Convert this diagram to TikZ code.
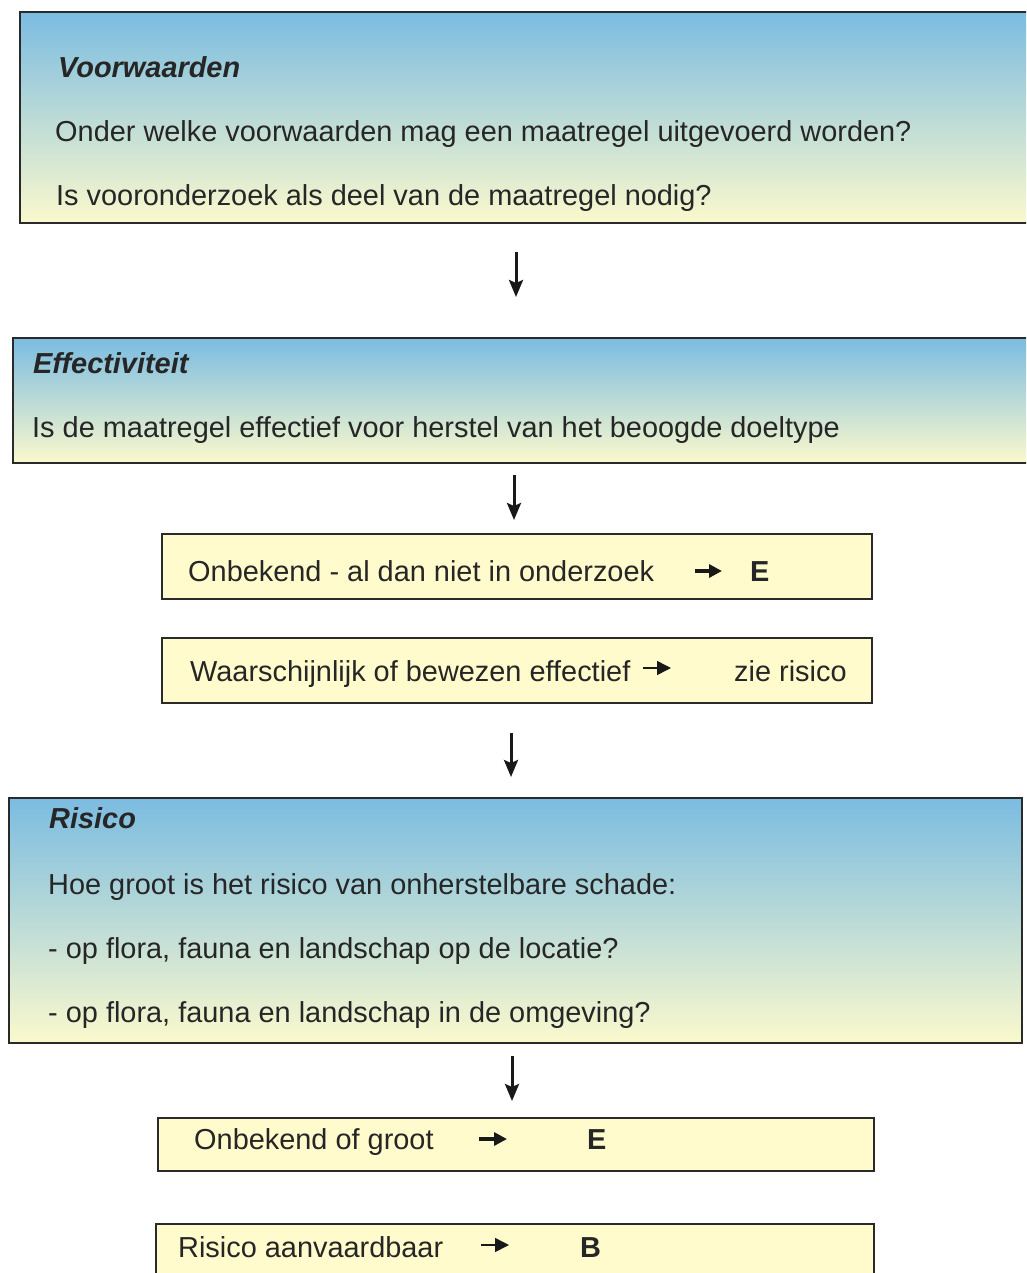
\documentclass[tikz,border=0pt]{standalone}
\usepackage{fontspec}
\setmainfont{Liberation Sans}
\usetikzlibrary{arrows.meta}
\definecolor{txt}{HTML}{262626}
\definecolor{edge}{HTML}{2A2A2A}
\definecolor{topblue}{HTML}{7BBCE1}
\definecolor{botyellow}{HTML}{FBF9CD}
\definecolor{paleyellow}{HTML}{FFFBCC}
\tikzset{
  bigbox/.style={draw=edge, line width=2pt, top color=topblue, bottom color=botyellow, anchor=north west, inner sep=0pt},
  smallbox/.style={draw=edge, line width=2pt, fill=paleyellow, anchor=north west, inner sep=0pt},
  txtnode/.style={anchor=base west, inner sep=0pt, text=txt, font=\fontsize{28.9}{34}\selectfont},
  head/.style={txtnode, font=\fontsize{28.9}{34}\selectfont\bfseries\itshape},
  bold/.style={txtnode, font=\fontsize{28.9}{34}\selectfont\bfseries},
  flow/.style={draw=black!90, line width=3pt, -{Stealth[length=17pt,width=14pt,inset=3pt]}},
  inarrow/.style={draw=black!90, line width=3.2pt, -{Triangle[length=13pt,width=13pt]}},
  inarrowthin/.style={draw=black!90, line width=1.5pt, -{Triangle[length=14pt,width=14pt]}}
}
\begin{document}
\begin{tikzpicture}[x=1pt,y=-1pt]
\useasboundingbox (0,0) rectangle (1026,1273);
\clip (0,0) rectangle (1026,1273);
% boxes
\node[bigbox, minimum width=1021pt, minimum height=211pt] (b1) at (19,11) {};
\node[bigbox, minimum width=1028pt, minimum height=125pt] (b2) at (12,337) {};
\node[smallbox, minimum width=710pt, minimum height=65pt] (b3) at (161,533) {};
\node[smallbox, minimum width=710pt, minimum height=65pt] (b4) at (161,637) {};
\node[bigbox, minimum width=1013pt, minimum height=245pt] (b5) at (8,797) {};
\node[smallbox, minimum width=716pt, minimum height=53pt] (b6) at (157,1117) {};
\node[smallbox, minimum width=718pt, minimum height=70pt] (b7) at (155,1223) {};
% texts box 1
\node[head] (t1) at (58,78) {Voorwaarden};
\node[txtnode] (t2) at (55,142) {Onder welke voorwaarden mag een maatregel uitgevoerd worden?};
\node[txtnode] (t3) at (56,206) {Is vooronderzoek als deel van de maatregel nodig?};
% box 2
\node[head] (t4) at (33,373) {Effectiviteit};
\node[txtnode] (t5) at (32,437) {Is de maatregel effectief voor herstel van het beoogde doeltype};
% box 3
\node[txtnode] (t6) at (188,581) {Onbekend - al dan niet in onderzoek};
\node[bold] (t7) at (750,581) {E};
% box 4
\node[txtnode] (t8) at (190,681) {Waarschijnlijk of bewezen effectief};
\node[txtnode] (t9) at (734,681) {zie risico};
% box 5
\node[head] (t10) at (49,828) {Risico};
\node[txtnode] (t11) at (48,894) {Hoe groot is het risico van onherstelbare schade:};
\node[txtnode] (t12) at (48,958) {- op flora, fauna en landschap op de locatie?};
\node[txtnode] (t13) at (48,1022) {- op flora, fauna en landschap in de omgeving?};
% box 6
\node[txtnode] (t14) at (194,1149) {Onbekend of groot};
\node[bold] (t15) at (587,1149) {E};
% box 7
\node[txtnode] (t16) at (178,1257) {Risico aanvaardbaar};
\node[bold] (t17) at (580,1257) {B};
% flow arrows
\coordinate (f1s) at (516,252); \coordinate (f1e) at (516,297);
\coordinate (f2s) at (514,475); \coordinate (f2e) at (514,520);
\coordinate (f3s) at (511,733); \coordinate (f3e) at (511,777);
\coordinate (f4s) at (512,1056); \coordinate (f4e) at (512,1101);
\draw[flow] (f1s) -- (f1e);
\draw[flow] (f2s) -- (f2e);
\draw[flow] (f3s) -- (f3e);
\draw[flow] (f4s) -- (f4e);
% inline arrows
\coordinate (i1s) at (695,571); \coordinate (i1e) at (722,571);
\coordinate (i2s) at (643,668); \coordinate (i2e) at (671,668);
\coordinate (i3s) at (479,1139); \coordinate (i3e) at (507,1139);
\coordinate (i4s) at (481,1245); \coordinate (i4e) at (509,1245);
\draw[inarrow] (i1s) -- (i1e);
\draw[inarrowthin] (i2s) -- (i2e);
\draw[inarrow] (i3s) -- (i3e);
\draw[inarrowthin] (i4s) -- (i4e);
\end{tikzpicture}
\end{document}
